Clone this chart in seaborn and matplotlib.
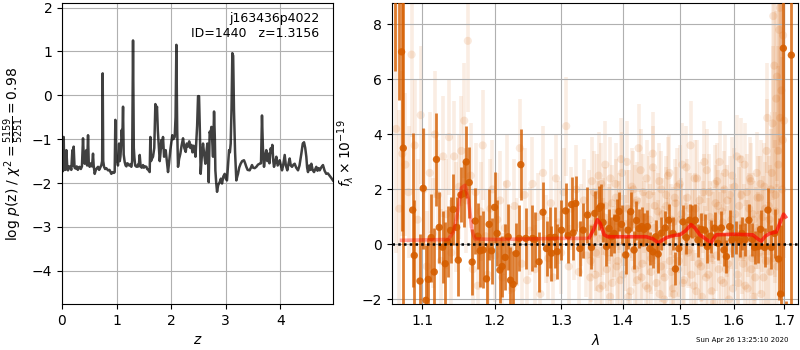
import matplotlib
matplotlib.use("Agg")
import matplotlib.pyplot as plt
from matplotlib.ticker import FormatStrFormatter, NullLocator
import numpy as np
import pandas as pd
import seaborn as sns

# ---- redshift probability curve -------------------------------------------
z_grid = [0.0, 0.007, 0.015, 0.022, 0.031, 0.04, 0.05, 0.065, 0.08, 0.095,
          0.11, 0.13, 0.153, 0.17, 0.19, 0.2, 0.214, 0.23, 0.25, 0.27,
          0.29, 0.31, 0.324, 0.345, 0.365, 0.385, 0.4, 0.416, 0.43, 0.446,
          0.46, 0.477, 0.49, 0.507, 0.53, 0.55, 0.568, 0.58, 0.599, 0.62,
          0.64, 0.66, 0.68, 0.70, 0.721, 0.735, 0.745, 0.755, 0.77, 0.79,
          0.81, 0.843, 0.87, 0.904, 0.93, 0.95, 0.965, 0.977, 0.99, 1.008,
          1.025, 1.045, 1.058, 1.07, 1.08, 1.093, 1.105, 1.118, 1.13, 1.148,
          1.165, 1.18, 1.195, 1.209, 1.23, 1.25, 1.27, 1.285, 1.301, 1.315,
          1.325, 1.34, 1.355, 1.374, 1.39, 1.405, 1.423, 1.44, 1.46, 1.484,
          1.5, 1.52, 1.545, 1.56, 1.58, 1.606, 1.618, 1.63, 1.645, 1.667,
          1.69, 1.71, 1.725, 1.74, 1.755, 1.777, 1.79, 1.805, 1.82, 1.835,
          1.85, 1.87, 1.899, 1.92, 1.942, 1.96, 1.984, 2.0, 2.02, 2.04,
          2.064, 2.08, 2.095, 2.11, 2.125, 2.145, 2.168, 2.19, 2.217, 2.24,
          2.266, 2.285, 2.308, 2.33, 2.35, 2.37, 2.39, 2.41, 2.43, 2.445,
          2.461, 2.475, 2.492, 2.51, 2.525, 2.54, 2.56, 2.583, 2.6, 2.626,
          2.645, 2.663, 2.675, 2.687, 2.705, 2.72, 2.736, 2.75, 2.766, 2.785,
          2.8, 2.809, 2.825, 2.84, 2.86, 2.888, 2.91, 2.931, 2.955, 2.98,
          3.0, 3.022, 3.04, 3.06, 3.075, 3.09, 3.105, 3.12, 3.135, 3.15,
          3.17, 3.193, 3.21, 3.224, 3.245, 3.272, 3.3, 3.333, 3.355, 3.376,
          3.4, 3.437, 3.46, 3.48, 3.5, 3.53, 3.56, 3.59, 3.62, 3.645,
          3.663, 3.68, 3.70, 3.72, 3.742, 3.76, 3.785, 3.8, 3.822, 3.84,
          3.852, 3.87, 3.883, 3.9, 3.926, 3.95, 3.987, 4.01, 4.03, 4.05,
          4.079, 4.1, 4.127, 4.15, 4.17, 4.19, 4.213, 4.24, 4.262, 4.29,
          4.323, 4.35, 4.384, 4.41, 4.433, 4.455, 4.475, 4.49, 4.506, 4.53,
          4.55, 4.567, 4.59, 4.616, 4.64, 4.658, 4.68, 4.7, 4.72, 4.75,
          4.78, 4.81, 4.84, 4.87, 4.90, 4.93, 4.963]
log_pz = [-1.75, -1.71, -1.2, -1.72, -0.95, -1.6, -1.56, -1.7, -1.25, -1.6,
          -1.71, -1.62, -1.63, -1.7, -1.25, -1.6, -1.17, -1.65, -1.67, -1.62,
          -1.7, -1.64, -1.63, -1.68, -1.62, -0.98, -1.45, -1.56, -1.3, -1.25,
          -1.6, -0.91, -1.55, -1.63, -1.55, -1.62, -1.33, -1.6, -1.79, -1.7,
          -1.66, -1.63, -1.7, -1.65, -1.59, -1.5, 0.5, -1.5, -1.63, -1.68,
          -1.66, -1.71, -1.7, -1.79, -1.75, -1.77, -1.75, -0.56, -1.5, -1.44,
          -1.6, -1.1, -1.5, -1.4, -1.2, -0.79, -1.0, -0.26, -1.35, -1.52,
          -1.6, -1.62, -1.55, -1.56, -1.6, -1.58, -1.63, -1.5, 1.25, -1.2,
          -1.4, -1.6, -1.62, -1.63, -1.58, -1.62, -1.36, -1.62, -1.65, -1.59,
          -1.65, -1.62, -1.63, -1.68, -1.7, -1.75, -0.95, -1.5, -1.45, -1.4,
          -1.2, -0.2, -0.35, -0.26, -0.8, -1.25, -1.5, -1.3, -1.02, -1.2,
          -0.95, -1.4, -1.25, -1.5, -1.75, -1.55, -1.25, -1.1, -0.91, -1.0,
          -0.95, -0.5, 1.15, -0.8, -1.63, -1.45, -1.33, -1.15, -0.98, -1.2,
          -1.29, -1.1, -1.17, -1.05, -1.2, -1.13, -1.3, -1.15, -1.25, -1.4,
          -1.02, -0.7, -0.02, -0.02, -0.8, -1.79, -1.4, -1.1, -1.3, -1.56,
          -1.3, -1.1, -1.5, -1.98, -0.83, -0.9, -0.72, -1.0, -1.4, -0.37,
          -1.0, -1.71, -2.0, -2.2, -2.05, -1.98, -1.9, -2.01, -1.85, -1.79,
          -1.9, -1.94, -1.6, -1.25, -1.3, -1.1, -0.3, 0.96, 0.9, -0.34,
          -1.3, -1.94, -1.85, -1.79, -1.65, -1.56, -1.5, -1.48, -1.55, -1.63,
          -1.7, -1.71, -1.65, -1.59, -1.65, -1.66, -1.63, -1.58, -1.56, -1.55,
          -0.46, -1.2, -1.63, -1.4, -1.25, -1.5, -1.33, -1.55, -1.21, -1.3,
          -1.13, -1.5, -1.63, -1.55, -1.4, -1.6, -1.48, -1.6, -1.71, -1.6,
          -1.36, -1.6, -1.71, -1.55, -1.44, -1.6, -1.63, -1.58, -1.56, -1.65,
          -1.71, -1.6, -1.33, -1.1, -1.07, -1.2, -1.4, -1.65, -1.75, -1.6,
          -1.7, -1.56, -1.7, -1.75, -1.68, -1.63, -1.72, -1.66, -1.71, -1.64,
          -1.59, -1.72, -1.79, -1.78, -1.83, -1.88, -1.94]

# ---- binned spectrum (wavelength in micron, flux in 1e-19 cgs) -------------
bin_wave = [1.0645, 1.070, 1.073, 1.0752, 1.0874, 1.0895, 1.097, 1.1013, 1.1049,
            1.108, 1.112, 1.116, 1.119, 1.1227, 1.1273, 1.1308, 1.134, 1.1382,
            1.1418, 1.1464, 1.1487, 1.1524, 1.1565, 1.1598, 1.164, 1.1681,
            1.1724, 1.176, 1.1794, 1.1837, 1.1885, 1.1922, 1.1957, 1.2, 1.2037,
            1.2077, 1.211, 1.2154, 1.2198, 1.2232, 1.2271, 1.2316, 1.236, 1.2385,
            1.246, 1.256, 1.2596, 1.266, 1.272, 1.2774, 1.2825, 1.285, 1.29,
            1.294, 1.3006, 1.307, 1.311, 1.3164, 1.319, 1.3232, 1.3296, 1.3349,
            1.3419, 1.3484, 1.3538, 1.3607, 1.3636, 1.3673, 1.3729, 1.3773,
            1.3812, 1.3856, 1.3896, 1.394, 1.398, 1.4052, 1.409, 1.4136, 1.4192,
            1.4234, 1.4278, 1.4325, 1.4364, 1.4423, 1.4463, 1.452, 1.4567,
            1.461, 1.4667, 1.4735, 1.4797, 1.4874, 1.4917, 1.4976, 1.5054,
            1.5115, 1.5175, 1.5224, 1.5279, 1.5327, 1.5389, 1.5451, 1.5501,
            1.5563, 1.5638, 1.57, 1.5765, 1.5814, 1.586, 1.5922, 1.5967, 1.6051,
            1.6115, 1.6159, 1.6225, 1.6296, 1.6363, 1.6409, 1.6473, 1.6527,
            1.6607, 1.6673, 1.6742, 1.6808, 1.6889, 1.6929, 1.6985, 1.7046,
            1.7149]
bin_flux = [10.5, 9.5, 7.0, 3.5, 1.25, -0.4, -1.33, 2.04, -2.03, -1.27, 0.25,
            -1.0, 3.09, 0.62, -0.1, -0.7, 0.1, 0.51, 1.27, 0.62, -0.57, 1.8,
            1.85, 3.0, 2.25, -0.64, 0.85, 0.3, -0.23, -0.2, -1.25, 0.73, -0.23,
            1.35, 0.4, -0.93, -0.8, -0.47, 0.28, -1.3, -1.45, -0.33, 0.22, 2.9,
            0.22, 0.22, 0.18, -0.63, 1.17, -0.15, 0.25, -0.32, 0.26, -0.26, 0.52,
            1.22, 0.32, 1.45, 0.42, 1.49, -0.15, 0.52, 1.07, -0.11, 1.13, 1.31,
            1.39, 0.8, -0.08, 0.58, 0.28, 0.4, 0.95, 1.2, 0.73, -0.38, 0.52,
            1.19, -0.2, 0.87, 0.58, 0.65, 0.55, 0.65, -0.15, -0.27, 0.28,
            -0.35, 0.41, 0.6, 0.88, 0.4, -0.89, -0.15, 0.82, 0.25, 0.88, 0.83,
            0.88, 0.16, 0.55, 0.52, -0.08, 0.3, 0.59, 0.04, 0.6, -0.2, -0.44,
            0.65, 0.16, 0.25, 0.13, 0.4, 0.18, 0.88, 0.18, -0.11, -0.08, 0.55,
            -0.11, 1.25, -0.11, 0.4, -0.53, -1.8, 7.13, -2.6, 6.88]
bin_err = [4.2, 4.25, 6.5, 5.9, 2.8, 2.0, 1.7, 2.2, 2.0, 1.5, 1.6, 1.6, 1.7,
           1.3, 1.3, 1.5, 1.3, 1.2, 1.3, 1.1, 1.3, 1.0, 1.2, 1.3, 1.3, 1.2,
           1.2, 1.2, 1.3, 1.4, 1.3, 1.3, 1.2, 1.3, 1.2, 1.2, 1.1, 1.2, 1.2,
           1.2, 1.2, 1.1, 1.2, 1.3, 1.1, 1.2, 1.0, 1.1, 1.1, 1.0, 1.1, 1.0,
           1.1, 1.0, 1.1, 1.0, 1.0, 1.0, 1.0, 1.0, 1.0, 1.0, 1.0, 0.8, 0.8,
           0.8, 0.8, 0.7, 0.7, 0.7, 0.7, 0.7, 0.7, 0.7, 0.7, 0.7, 0.7, 0.7,
           0.7, 0.7, 0.7, 0.7, 0.6, 0.6, 0.6, 0.6, 0.6, 0.7, 0.6, 0.6, 0.6,
           0.6, 0.6, 0.6, 0.6, 0.6, 0.6, 0.6, 0.6, 0.6, 0.6, 0.6, 0.6, 0.6,
           0.6, 0.6, 0.6, 0.6, 0.6, 0.6, 0.6, 0.6, 0.6, 0.6, 0.6, 0.6,
           0.6, 0.6, 0.6, 0.7, 0.7, 0.8, 0.8, 0.9, 1.5, 2.5, 9.0, 0.55, 10.0]

# ---- unbinned spectrum pixels, first set -----------------------------------
pix_wave = [1.066, 1.070, 1.074, 1.078, 1.082, 1.086, 1.090, 1.094, 1.098, 1.102,
            1.106, 1.110, 1.114, 1.117, 1.121, 1.125, 1.128, 1.132, 1.136, 1.139,
            1.143, 1.146, 1.150, 1.153, 1.157, 1.160, 1.162, 1.166, 1.169, 1.173,
            1.176, 1.180, 1.183, 1.187, 1.190, 1.194, 1.197, 1.201, 1.204, 1.208,
            1.211, 1.215, 1.218, 1.222, 1.226, 1.229, 1.233, 1.237, 1.240, 1.244,
            1.248, 1.252, 1.256, 1.260, 1.264, 1.268, 1.272, 1.276, 1.280, 1.284,
            1.288, 1.292, 1.296, 1.300, 1.304, 1.308, 1.312, 1.316, 1.320, 1.324,
            1.328, 1.332, 1.336, 1.340,
            1.344, 1.347, 1.349, 1.352, 1.355, 1.357, 1.360, 1.363, 1.366, 1.368,
            1.371, 1.374, 1.377, 1.379, 1.382, 1.385, 1.388, 1.390, 1.393, 1.396,
            1.399, 1.401, 1.404, 1.407, 1.410, 1.413, 1.415, 1.418, 1.421, 1.424,
            1.427, 1.429, 1.432, 1.435, 1.438, 1.441, 1.443, 1.446, 1.449, 1.452,
            1.455, 1.458, 1.461, 1.463, 1.466, 1.469, 1.472, 1.475, 1.478, 1.481,
            1.484, 1.487, 1.489, 1.492, 1.495, 1.498, 1.501, 1.504, 1.507, 1.510,
            1.513, 1.516, 1.519, 1.522, 1.525, 1.528, 1.531, 1.534, 1.537, 1.540,
            1.543, 1.546, 1.549, 1.552, 1.555, 1.558, 1.561, 1.564, 1.567, 1.570,
            1.573, 1.576, 1.579, 1.582, 1.585, 1.588, 1.591, 1.594, 1.597, 1.600,
            1.603, 1.606, 1.609, 1.612, 1.615, 1.618, 1.621, 1.624, 1.627, 1.630,
            1.633, 1.636, 1.639, 1.642, 1.645, 1.648, 1.651, 1.654, 1.657, 1.660,
            1.663, 1.666, 1.669, 1.672, 1.675, 1.678, 1.680, 1.682, 1.684, 1.686,
            1.688, 1.690, 1.692, 1.694, 1.696, 1.698, 1.700]
pix_flux = [4.2, 1.3, 3.3, 2.9, 1.9, 6.9, 3.6, 0.9, 4.7, 2.0,
            -0.8, 2.6, 0.4, 4.0, 1.8, -0.6, 3.2, 1.1, 3.9, -0.3,
            3.2, 1.0, 2.1, 3.4, 4.5, 1.6, 7.4, 2.5, -0.9, 1.9,
            -1.5, 1.2, 3.6, 0.3, -1.1, 1.3, 2.0, -0.4, 0.9, 1.6,
            -1.2, 0.6, 2.2, -0.2, -1.6, 1.4, 0.1, 3.5, -0.7, 1.8,
            -1.3, 0.5, 2.2, -0.9, 1.0, -1.8, 2.6, 0.2, -0.5, 1.5,
            -1.2, 2.4, 0.8, -0.3, 1.9, 4.3, -0.8, 1.3, 0.2, 2.0,
            -1.0, 0.7, 1.6, -0.4,
            1.1, -0.6, 2.3, 0.4, -1.1, 1.8, 2.5, 0.2, -1.5, 1.0,
            2.9, -0.3, 0.8, -1.9, 1.5, 0.1, 2.2, -0.8, 1.2, -1.3,
            2.6, 0.5, -0.4, 3.0, 1.3, -1.7, 0.7, 2.0, -0.9, 1.6,
            3.5, 0.0, -1.2, 1.9, 0.6, 2.4, -1.6, 0.9, -0.5, 2.8,
            1.4, -1.4, 0.3, 2.3, -0.8, 1.1, -2.0, 1.8, 0.4, 2.6,
            -1.0, 0.8, -1.8, 1.5, 2.1, -0.6, 0.9, 2.9, -1.3, 0.2,
            1.7, -0.2, 3.6, 0.7, -1.5, 1.3, 2.4, -0.7, 0.5, -1.9,
            1.9, 0.1, 2.7, -1.1, 1.0, -1.7, 0.6, 2.2, -0.4, 1.4,
            3.0, -1.3, 0.8, 2.0, -0.9, 1.6, -2.0, 0.4, 2.5, -0.2,
            1.1, 3.2, -1.4, 0.7, 1.8, -0.7, 2.9, 0.3, -1.6, 1.3,
            2.3, -0.5, 0.9, -1.2, 2.6, 0.5, 1.7, -1.8, 1.0, 2.1,
            -0.6, 4.6, 1.4, -1.0, 2.6, 8.3, 6.5, 1.2, 5.3, -0.8,
            3.4, 7.8, 4.6, 9.5, 2.0, 7.6, 4.5]
pix_err = [4.5, 3.6, 3.0, 2.6, 2.4, 3.0, 2.4, 2.2, 2.5, 2.2,
           2.0, 2.2, 2.0, 2.3, 2.0, 1.9, 2.2, 2.0, 2.1, 1.9,
           2.0, 2.0, 1.9, 2.0, 2.1, 1.9, 2.6, 1.9, 1.8, 1.8,
           1.8, 1.8, 2.0, 1.7, 1.7, 1.8, 1.8, 1.7, 1.7, 1.8,
           1.6, 1.7, 1.8, 1.6, 1.6, 1.7, 1.6, 1.8, 1.6, 1.7,
           1.6, 1.6, 1.7, 1.6, 1.6, 1.6, 1.7, 1.6, 1.5, 1.6,
           1.5, 1.6, 1.5, 1.5, 1.6, 1.8, 1.5, 1.5, 1.5, 1.6,
           1.5, 1.5, 1.5, 1.5,
           1.6, 1.5, 1.6, 1.4, 1.4, 1.5, 1.6, 1.4, 1.4, 1.4,
           1.6, 1.4, 1.4, 1.5, 1.4, 1.3, 1.5, 1.4, 1.4, 1.4,
           1.5, 1.3, 1.3, 1.5, 1.4, 1.4, 1.3, 1.4, 1.3, 1.4,
           1.6, 1.3, 1.3, 1.4, 1.3, 1.4, 1.4, 1.3, 1.3, 1.5,
           1.3, 1.3, 1.3, 1.4, 1.3, 1.3, 1.4, 1.4, 1.3, 1.4,
           1.3, 1.3, 1.4, 1.3, 1.4, 1.3, 1.3, 1.5, 1.3, 1.3,
           1.4, 1.3, 1.6, 1.3, 1.3, 1.3, 1.4, 1.3, 1.3, 1.4,
           1.4, 1.3, 1.5, 1.3, 1.3, 1.4, 1.3, 1.4, 1.3, 1.3,
           1.5, 1.3, 1.3, 1.4, 1.3, 1.3, 1.4, 1.3, 1.4, 1.3,
           1.3, 1.5, 1.3, 1.3, 1.4, 1.3, 1.5, 1.3, 1.4, 1.3,
           1.4, 1.3, 1.4, 1.4, 1.5, 1.4, 1.5, 1.5, 1.5, 1.6,
           1.6, 2.0, 1.8, 1.9, 2.2, 3.5, 3.0, 2.6, 3.2, 3.0,
           3.8, 4.5, 4.2, 5.0, 4.8, 5.5, 5.0]

# ---- unbinned spectrum pixels, second set (red half) -----------------------
pix2_wave = [1.3465, 1.3495, 1.3525, 1.3555, 1.3585, 1.3615, 1.3645, 1.3675, 1.3705, 1.3735,
             1.3765, 1.3795, 1.3825, 1.3855, 1.3885, 1.3915, 1.3945, 1.3975, 1.4005, 1.4035,
             1.4065, 1.4095, 1.4125, 1.4155, 1.4185, 1.4215, 1.4245, 1.4275, 1.4305, 1.4335,
             1.4365, 1.4395, 1.4425, 1.4455, 1.4485, 1.4515, 1.4545, 1.4575, 1.4605, 1.4635,
             1.4665, 1.4695, 1.4725, 1.4755, 1.4785, 1.4815, 1.4845, 1.4875, 1.4905, 1.4935,
             1.4965, 1.4995, 1.5025, 1.5055, 1.5085, 1.5115, 1.5145, 1.5175, 1.5205, 1.5235,
             1.5265, 1.5295, 1.5325, 1.5355, 1.5385, 1.5415, 1.5445, 1.5475, 1.5505, 1.5535,
             1.5565, 1.5595, 1.5625, 1.5655, 1.5685, 1.5715, 1.5745, 1.5775, 1.5805, 1.5835,
             1.5865, 1.5895, 1.5925, 1.5955, 1.5985, 1.6015, 1.6045, 1.6075, 1.6105, 1.6135,
             1.6165, 1.6195, 1.6225, 1.6255, 1.6285, 1.6315, 1.6345, 1.6375, 1.6405, 1.6435,
             1.6465, 1.6495, 1.6525, 1.6555, 1.6585, 1.6615, 1.6645, 1.6675, 1.6705, 1.6735,
             1.6765, 1.6795, 1.6825, 1.6855, 1.6885, 1.6915, 1.6945, 1.6975]
pix2_flux = [-1.2, 0.6, 1.9, -0.3, 0.9, -1.6, 2.2, 0.3, 1.4, -0.9,
             0.7, 2.4, -1.4, 0.0, 1.7, -0.6, 1.0, 3.1, -1.1, 0.5,
             1.3, -1.9, 0.8, 2.1, -0.2, 1.5, -1.3, 0.4, 2.7, -0.7,
             1.0, -1.5, 0.2, 1.8, -1.0, 3.3, 0.6, -0.4, 1.2, -1.8,
             2.0, 0.1, -1.2, 1.4, 2.5, -0.6, 0.9, -1.6, 1.7, 0.3,
             -0.9, 2.2, 1.1, -1.4, 0.5, 2.8, -0.3, 1.3, -1.1, 0.7,
             2.4, -1.7, 0.2, 1.6, -0.8, 1.0, 3.0, -1.2, 0.4, 1.9,
             -0.5, 0.8, -2.1, 1.5, 2.3, -0.9, 0.6, 1.2, -1.4, 2.6,
             0.1, -0.7, 1.8, 0.9, -1.6, 2.1, 0.4, -1.1, 1.4, 3.1,
             -0.4, 0.8, -1.5, 1.9, 0.2, 2.4, -0.9, 1.1, -1.9, 0.6,
             1.7, -0.3, 2.2, 0.5, -1.2, 1.3, 3.4, -0.6, 0.9, 2.0,
             4.4, -0.5, 1.8, 6.1, 2.9, 8.6, 5.6, 3.8]
pix2_err = [1.5, 1.4, 1.5, 1.4, 1.4, 1.5, 1.5, 1.4, 1.4, 1.4,
            1.4, 1.5, 1.4, 1.3, 1.4, 1.4, 1.3, 1.5, 1.4, 1.3,
            1.4, 1.4, 1.3, 1.4, 1.3, 1.4, 1.4, 1.3, 1.5, 1.3,
            1.3, 1.4, 1.3, 1.4, 1.3, 1.5, 1.3, 1.3, 1.4, 1.4,
            1.4, 1.3, 1.3, 1.4, 1.4, 1.3, 1.3, 1.4, 1.4, 1.3,
            1.3, 1.4, 1.3, 1.4, 1.3, 1.5, 1.3, 1.3, 1.4, 1.3,
            1.4, 1.4, 1.3, 1.4, 1.3, 1.3, 1.5, 1.3, 1.3, 1.4,
            1.3, 1.3, 1.5, 1.4, 1.4, 1.3, 1.3, 1.4, 1.4, 1.4,
            1.3, 1.3, 1.4, 1.3, 1.4, 1.4, 1.3, 1.4, 1.4, 1.5,
            1.4, 1.4, 1.4, 1.4, 1.4, 1.5, 1.4, 1.5, 1.5, 1.5,
            1.5, 1.5, 1.6, 1.5, 1.6, 1.7, 1.9, 1.8, 2.0, 2.2,
            2.8, 2.6, 3.0, 3.8, 3.6, 5.0, 5.5, 5.2]

# ---- best-fit model (two overlapping traces) -------------------------------
model_wave_a = [1.073, 1.135, 1.142, 1.148, 1.153, 1.158, 1.163, 1.168, 1.172,
                1.20, 1.25, 1.30, 1.34]
model_flux_a = [0.15, 0.18, 0.45, 1.2, 2.05, 2.15, 1.6, 0.5, 0.2,
                0.18, 0.20, 0.22, 0.22]
model_wave_b = [1.345, 1.352, 1.358, 1.363, 1.369, 1.375, 1.44, 1.452, 1.461,
                1.468, 1.476, 1.49, 1.50, 1.51, 1.52, 1.527, 1.536, 1.547,
                1.557, 1.563, 1.567, 1.60, 1.637, 1.647, 1.654, 1.662, 1.671,
                1.684, 1.692, 1.699, 1.703]
model_flux_b = [0.25, 0.55, 0.9, 0.75, 0.35, 0.28, 0.28, 0.2, 0.06,
                0.15, 0.25, 0.33, 0.35, 0.5, 0.72, 0.6, 0.35, 0.2,
                0.06, 0.25, 0.35, 0.37, 0.35, 0.2, 0.12, 0.3, 0.4,
                0.45, 0.8, 1.1, 1.0]

GRISM_COLOR = "#d55e00"
GRID_KW = dict(color="#b0b0b0", linewidth=0.8)

fig = plt.figure(figsize=(8, 3.5), dpi=100)
ax_z = fig.add_axes([0.0775, 0.131, 0.3385, 0.860])
ax_s = fig.add_axes([0.490, 0.131, 0.508, 0.860])

# left: log p(z)
pz = pd.DataFrame({"z": z_grid, "logp": log_pz})
sns.lineplot(data=pz, x="z", y="logp", ax=ax_z, color="k", alpha=0.75,
             linewidth=1.8, sort=False, estimator=None)
ax_z.set_xlim(0, 4.96)
ax_z.set_ylim(-4.76, 2.1)
ax_z.set_xticks([0, 1, 2, 3, 4])
ax_z.set_yticks([2, 1, 0, -1, -2, -3, -4])
ax_z.grid(True, **GRID_KW)
ax_z.set_xlabel(r"$z$")
ax_z.set_ylabel(r"log $p$(z) / $\chi^2=\frac{5159}{5251}=0.98$")
ax_z.text(0.95, 0.97, "j163436p4022\nID=1440   z=1.3156", transform=ax_z.transAxes,
          ha="right", va="top", fontsize=9)

# right: spectrum
pix = pd.concat([
    pd.DataFrame({"wave": pix_wave, "flux": pix_flux, "err": pix_err}),
    pd.DataFrame({"wave": pix2_wave, "flux": pix2_flux, "err": pix2_err}),
], ignore_index=True)
bins = pd.DataFrame({"wave": bin_wave, "flux": bin_flux, "err": bin_err})

ax_s.errorbar(pix["wave"], pix["flux"], yerr=pix["err"], fmt="none",
              ecolor=GRISM_COLOR, alpha=0.11, elinewidth=2.6, zorder=1)
sns.scatterplot(data=pix, x="wave", y="flux", ax=ax_s, color=GRISM_COLOR,
                alpha=0.14, s=34, edgecolor="none", zorder=1, legend=False)

ax_s.errorbar(bins["wave"], bins["flux"], yerr=bins["err"], fmt="none",
              ecolor=GRISM_COLOR, alpha=0.8, elinewidth=2.0, zorder=3)
sns.scatterplot(data=bins, x="wave", y="flux", ax=ax_s, color=GRISM_COLOR,
                alpha=0.9, s=28, edgecolor="none", zorder=4, legend=False)

sns.lineplot(x=model_wave_a, y=model_flux_a, ax=ax_s, color="red", alpha=0.35,
             linewidth=2.6, sort=False, estimator=None, zorder=5)
sns.lineplot(x=model_wave_b, y=model_flux_b, ax=ax_s, color="red", alpha=0.65,
             linewidth=2.6, sort=False, estimator=None, zorder=5)

ax_s.axhline(0, color="k", linestyle=(0, (1, 1.3)), linewidth=1.8, zorder=6)

ax_s.set_xscale("log")
ax_s.set_xlim(1.0607, 1.7295)
ax_s.set_ylim(-2.17, 8.77)
ax_s.set_xticks([1.1, 1.2, 1.3, 1.4, 1.5, 1.6, 1.7])
ax_s.xaxis.set_major_formatter(FormatStrFormatter("%.1f"))
ax_s.xaxis.set_minor_locator(NullLocator())
ax_s.set_yticks([-2, 0, 2, 4, 6, 8])
ax_s.grid(True, **GRID_KW)
ax_s.set_xlabel(r"$\lambda$")
ax_s.set_ylabel(r"$f_\lambda\times10^{-19}$")

fig.text(0.985, 0.02, "Sun Apr 26 13:25:10 2020", ha="right", va="bottom",
         fontsize=5)

fig.savefig("out.png", dpi=100)
